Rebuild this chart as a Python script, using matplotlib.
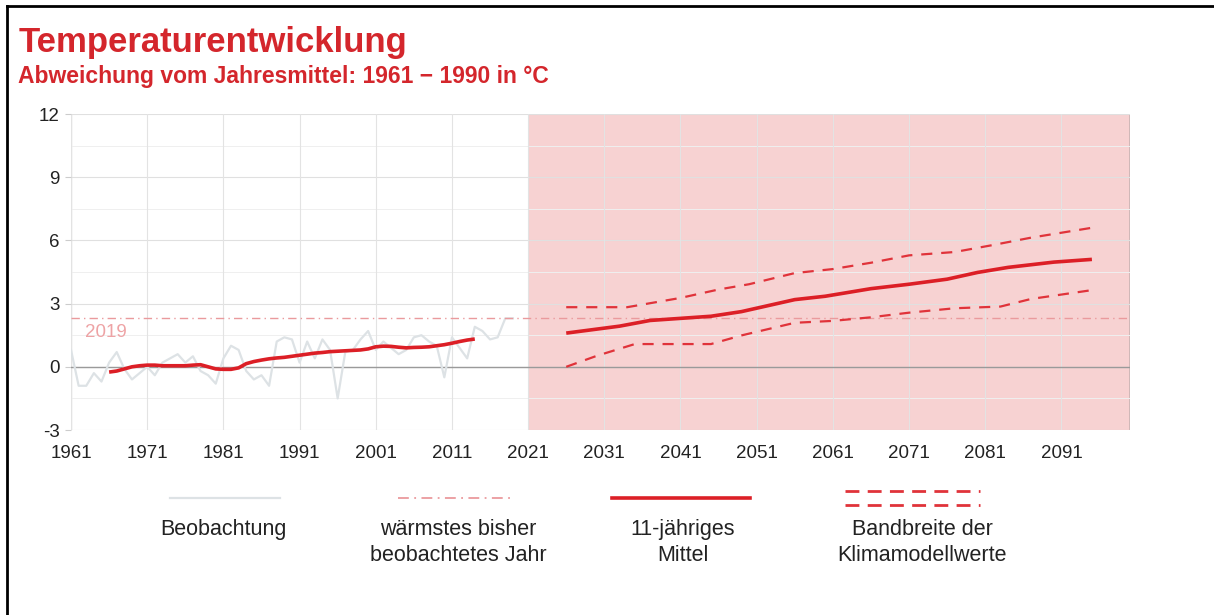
import matplotlib
matplotlib.use("Agg")
import matplotlib.pyplot as plt
from matplotlib.lines import Line2D
import numpy as np

plt.rcParams['font.family'] = ['Liberation Sans', 'DejaVu Sans']
plt.rcParams['axes.unicode_minus'] = False

# observed yearly anomalies 1961-2019
obs_years = list(range(1961, 2020))
obs_vals = [0.8, -0.9, -0.9, -0.3, -0.7, 0.2, 0.7, -0.1, -0.6, -0.3,
            0.0, -0.4, 0.2, 0.4, 0.6, 0.2, 0.5, -0.2, -0.4, -0.8,
            0.4, 1.0, 0.8, -0.2, -0.6, -0.4, -0.9, 1.2, 1.4, 1.3,
            0.2, 1.2, 0.4, 1.3, 0.8, -1.5, 0.7, 0.8, 1.3, 1.7,
            0.8, 1.2, 0.9, 0.6, 0.8, 1.4, 1.5, 1.2, 1.0, -0.5,
            1.4, 0.9, 0.4, 1.9, 1.7, 1.3, 1.4, 2.3, 2.3]

# 11-year running mean of observations
mean_years = list(range(1966, 2015))
mean_vals = [-0.25, -0.2, -0.1, 0.0, 0.05, 0.08, 0.08, 0.05, 0.05, 0.05,
             0.05, 0.08, 0.1, 0.0, -0.1, -0.12, -0.12, -0.05, 0.15, 0.25,
             0.32, 0.38, 0.42, 0.45, 0.5, 0.55, 0.6, 0.65, 0.68, 0.72,
             0.74, 0.76, 0.78, 0.8, 0.85, 0.95, 0.98, 0.97, 0.93, 0.9,
             0.92, 0.93, 0.95, 1.0, 1.05, 1.12, 1.2, 1.27, 1.32]

# projection (11-year mean)
proj_years = [2026, 2033, 2037, 2045, 2049, 2056, 2060, 2066, 2071, 2076, 2080, 2084, 2090, 2095]
proj_vals = [1.6, 1.93, 2.2, 2.4, 2.62, 3.19, 3.35, 3.71, 3.92, 4.16, 4.48, 4.72, 4.97, 5.1]

# model range
upper_years = [2026, 2034, 2041, 2046, 2050, 2056, 2061, 2066, 2071, 2077, 2082, 2087, 2095]
upper_vals = [2.83, 2.83, 3.27, 3.67, 3.92, 4.45, 4.64, 4.94, 5.29, 5.45, 5.78, 6.13, 6.6]
lower_years = [2026, 2030, 2035, 2045, 2049, 2056, 2061, 2066, 2071, 2077, 2083, 2087, 2095]
lower_vals = [0.0, 0.52, 1.08, 1.08, 1.49, 2.09, 2.18, 2.35, 2.57, 2.78, 2.86, 3.22, 3.64]

warmest = 2.33
xticks = list(range(1961, 2092, 10))
yticks = [-3, 0, 3, 6, 9, 12]

red = '#dc1f26'
band_red = '#e0333a'
pink = '#f7d2d2'
gray_obs = '#dde2e5'

fig = plt.figure(figsize=(12.14, 6.15), dpi=100)
ax = fig.add_axes([0.0585, 0.3008, 0.8723, 0.5138])

ax.axvspan(2021, 2100, color=pink, zorder=0, lw=0)
ax.axvline(2100, color='#c9b3b3', lw=1.2, zorder=1)
ax.axvline(1961, color='#dddddd', lw=1.0, zorder=1)

for t in np.arange(-1.5, 12, 3):
    ax.axhline(t, color='#efefef', lw=0.7, zorder=1)
for t in yticks:
    ax.axhline(t, color='#e0e0e0', lw=0.8, zorder=1)
for t in xticks:
    ax.axvline(t, color='#e3e3e3', lw=0.8, zorder=1)
ax.axhline(0, color='#9a9a9a', lw=1.0, zorder=2)

ax.plot(obs_years, obs_vals, color=gray_obs, lw=1.6, zorder=3)
ax.axhline(warmest, color='#ea9a9d', lw=1.0, ls=(0, (6, 3, 1, 3)), zorder=3)
ax.text(1962.8, 1.62, '2019', color='#eea3a5', fontsize=13.5, va='center', ha='left')

ax.plot(mean_years, mean_vals, color=red, lw=2.6, zorder=4, solid_capstyle='butt')
ax.plot(proj_years, proj_vals, color=red, lw=2.6, zorder=4, solid_capstyle='butt')
ax.plot(upper_years, upper_vals, color=band_red, lw=1.6, ls=(0, (5, 4)), zorder=4)
ax.plot(lower_years, lower_vals, color=band_red, lw=1.6, ls=(0, (5, 4)), zorder=4)

ax.set_xlim(1961, 2100)
ax.set_ylim(-3, 12)
ax.set_xticks(xticks)
ax.set_yticks(yticks)
ax.tick_params(axis='x', length=0, labelsize=13.5, colors='#222222', pad=11)
ax.tick_params(axis='y', length=4, width=0.8, color='#cccccc', labelsize=13.5,
               labelcolor='#222222', pad=4)
for s in ax.spines.values():
    s.set_visible(False)

# titles
fig.text(0.015, 1 - 52 / 615, 'Temperaturentwicklung', color='#d4262c', fontsize=25,
         fontweight='bold', va='baseline')
fig.text(0.015, 1 - 83 / 615, 'Abweichung vom Jahresmittel: 1961 \u2212 1990 in \u00b0C', color='#d4262c',
         fontsize=16.5, fontweight='bold', va='baseline')

# legend drawn in figure coordinates
def leg_line(x0, x1, y, **kw):
    fig.add_artist(Line2D([x0 / 1214, x1 / 1214], [1 - y / 615, 1 - y / 615], transform=fig.transFigure, **kw))

leg_line(170, 280, 498, color=gray_obs, lw=1.6)
leg_line(398, 515, 498, color='#ea9a9d', lw=1.3, ls=(0, (6, 3, 1, 3)))
leg_line(612, 750, 498, color=red, lw=2.6)
leg_line(845, 980, 491, color=band_red, lw=2.0, ls=(0, (5, 3)))
leg_line(845, 980, 505, color=band_red, lw=2.0, ls=(0, (5, 3)))

labels = ['Beobachtung', 'w\u00e4rmstes bisher\nbeobachtetes Jahr', '11-j\u00e4hriges\nMittel',
          'Bandbreite der\nKlimamodellwerte']
centers = [223, 458, 683, 922]
for c, lab in zip(centers, labels):
    fig.text(c / 1214, 1 - 519 / 615, lab, ha='center', va='top', fontsize=15.5,
             color='#222222', linespacing=1.3)

# frame on the left and top
fig.add_artist(Line2D([7 / 1214, 7 / 1214], [0, 1 - 6 / 615], transform=fig.transFigure, color='black', lw=2))
fig.add_artist(Line2D([7 / 1214, 1], [1 - 6 / 615, 1 - 6 / 615], transform=fig.transFigure, color='black', lw=2))

fig.savefig('out.png', dpi=100)
